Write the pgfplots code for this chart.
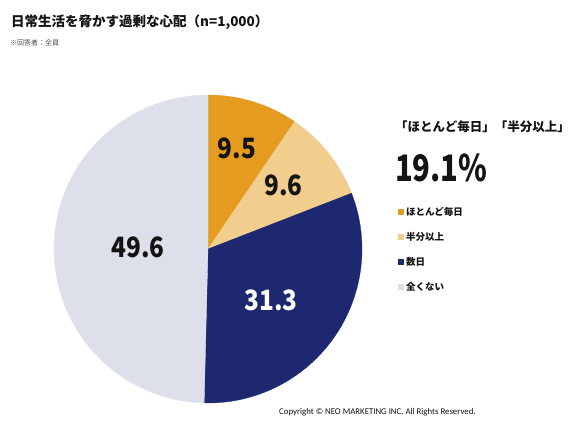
\documentclass[border=0pt]{standalone}
\usepackage{fontspec}
\setmainfont{Noto Sans CJK JP}
\newfontfamily\cfont{Carlito}
\usepackage{pgfplots}
\usepackage{pgfplotstable}
\pgfplotsset{compat=1.18}
\definecolor{cA}{RGB}{229,155,32}
\definecolor{cB}{RGB}{242,206,142}
\definecolor{cC}{RGB}{30,40,112}
\definecolor{cD}{RGB}{221,223,234}
\definecolor{txt}{RGB}{20,20,20}
\pgfplotstableread{
label value
A 9.5
B 9.6
C 31.3
D 49.6
}\piedata
\begin{document}
\begin{tikzpicture}
\pgfplotstablegetelem{0}{value}\of\piedata \let\vA\pgfplotsretval
\pgfplotstablegetelem{1}{value}\of\piedata \let\vB\pgfplotsretval
\pgfplotstablegetelem{2}{value}\of\piedata \let\vC\pgfplotsretval
\pgfplotstablegetelem{3}{value}\of\piedata \let\vD\pgfplotsretval
\pgfmathsetmacro\aA{90-3.6*\vA}
\pgfmathsetmacro\aB{\aA-3.6*\vB}
\pgfmathsetmacro\aC{\aB-3.6*\vC}
\pgfmathsetmacro\aD{\aC-3.6*\vD}
\path[use as bounding box,fill=white] (0pt,0pt) rectangle (574pt,436pt);
\begin{axis}[at={(208pt,187pt)},anchor=center,scale only axis,width=308pt,height=308pt,
  xmin=-1,xmax=1,ymin=-1,ymax=1,hide axis,clip=false]
\addplot[fill=cA,draw=cA,line width=0.3pt,domain=\aA:90,samples=60,variable=\t] ({cos(t)},{sin(t)}) -- (axis cs:0,0) -- cycle;
\addplot[fill=cB,draw=cB,line width=0.3pt,domain=\aB:\aA,samples=60,variable=\t] ({cos(t)},{sin(t)}) -- (axis cs:0,0) -- cycle;
\addplot[fill=cC,draw=cC,line width=0.3pt,domain=\aC:\aB,samples=100,variable=\t] ({cos(t)},{sin(t)}) -- (axis cs:0,0) -- cycle;
\addplot[fill=cD,draw=cD,line width=0.3pt,domain=\aD:\aC,samples=150,variable=\t] ({cos(t)},{sin(t)}) -- (axis cs:0,0) -- cycle;
\node[xscale=0.87,font=\fontsize{28}{28}\selectfont\bfseries,text=txt] at (axis cs:0.188,0.653) {\vA};
\node[xscale=0.87,font=\fontsize{28}{28}\selectfont\bfseries,text=txt] at (axis cs:0.490,0.412) {\vB};
\node[xscale=0.87,font=\fontsize{28}{28}\selectfont\bfseries,text=white] at (axis cs:0.409,-0.331) {\vC};
\node[xscale=0.87,font=\fontsize{28}{28}\selectfont\bfseries,text=txt] at (axis cs:-0.455,0.013) {\vD};
\end{axis}
\begin{scope}[x=1pt,y=1pt]
% titles
\node[anchor=west,inner sep=0,font=\fontsize{13.5}{13.5}\selectfont\bfseries,text=txt] at (11,413.5) {日常生活を脅かす過剰な心配（n=1,000）};
\node[anchor=west,inner sep=0,font=\fontsize{7}{7}\selectfont,text=black!70] at (10,393) {※回答者：全員};
% right side
\node[anchor=west,inner sep=0,font=\fontsize{12.5}{12.5}\selectfont\bfseries,text=txt] at (395,309) {「ほとんど毎日」「半分以上」};
\node[anchor=west,inner sep=0,xscale=0.8,font=\fontsize{36.5}{36.5}\selectfont\bfseries,text=txt] at (395,268.5) {19.1\%};
\fill[cA] (398,221) rectangle (404,227);
\fill[cB] (398,196) rectangle (404,202);
\fill[cC] (398,171) rectangle (404,177);
\fill[cD] (398,146) rectangle (404,152);
\node[anchor=west,inner sep=0,font=\fontsize{9.5}{9.5}\selectfont\bfseries,text=txt] at (406,224) {ほとんど毎日};
\node[anchor=west,inner sep=0,font=\fontsize{9.5}{9.5}\selectfont\bfseries,text=txt] at (406,199) {半分以上};
\node[anchor=west,inner sep=0,font=\fontsize{9.5}{9.5}\selectfont\bfseries,text=txt] at (406,174) {数日};
\node[anchor=west,inner sep=0,font=\fontsize{9.5}{9.5}\selectfont\bfseries,text=txt] at (406,149) {全くない};
\node[anchor=west,inner sep=0,font=\cfont\fontsize{8.8}{8.8}\selectfont,text=txt] at (279,24) {Copyright © NEO MARKETING INC. All Rights Reserved.};
\end{scope}
\end{tikzpicture}
\end{document}
